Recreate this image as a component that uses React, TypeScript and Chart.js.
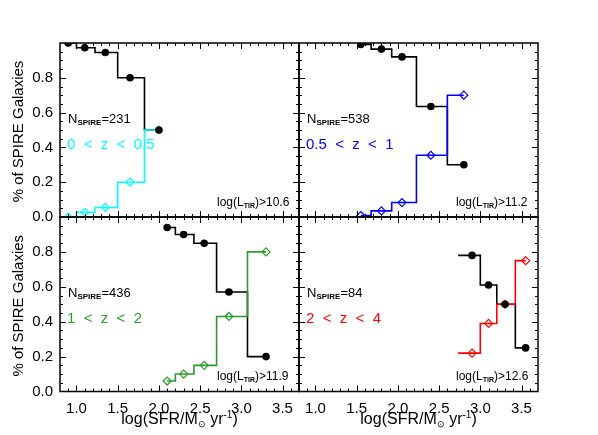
import React, { useEffect, useRef } from 'react';
import { Chart, registerables } from 'chart.js';

Chart.register(...registerables);

const W = 598;
const H = 435;
const FONT = '"Liberation Sans", Arial, Helvetica, sans-serif';

// ---------------- data ----------------
// 0 < z < 0.5
const sfr1 = [0.9, 1.1, 1.35, 1.65, 2.0];
const black1 = [1.0, 0.973, 0.945, 0.8, 0.5];
const cyan1 = [0.0, 0.027, 0.055, 0.2, 0.5];
// 0.5 < z < 1
const sfr2 = [1.55, 1.8, 2.05, 2.4, 2.8];
const black2 = [0.992, 0.965, 0.92, 0.635, 0.3];
const blue2 = [0.008, 0.035, 0.083, 0.355, 0.7];
// 1 < z < 2
const sfr3 = [2.1, 2.3, 2.55, 2.85, 3.3];
const black3 = [0.94, 0.9, 0.85, 0.57, 0.2];
const green3 = [0.06, 0.1, 0.15, 0.43, 0.8];
// 2 < z < 4
const sfr4 = [2.9, 3.1, 3.3, 3.55];
const black4 = [0.78, 0.61, 0.5, 0.25];
const red4 = [0.22, 0.39, 0.5, 0.75];
const histStart4 = 2.73;

const xTickValues = [1.0, 1.5, 2.0, 2.5, 3.0, 3.5];
const yTickValues = [0.0, 0.2, 0.4, 0.6, 0.8];
const xRange = [0.8, 3.7];
const yRange = [0, 1];

const nSpire = ['231', '538', '436', '84'];
const zLabels = ['0  <  z  <  0.5', '0.5  <  z  <  1', '1  <  z  <  2', '2  <  z  <  4'];
const lirCuts = ['10.6', '11.2', '11.9', '12.6'];

// ---------------- layout ----------------
const COLS = [[60, 299], [299, 538]];
const ROWS = [[43, 217], [217, 391.5]];

type Panel = {
  sfr: number[];
  black: number[];
  frac: number[];
  color: string;
  col: number;
  row: number;
  start?: number;
};

const panels: Panel[] = [
  { sfr: sfr1, black: black1, frac: cyan1, color: '#00ffff', col: 0, row: 0 },
  { sfr: sfr2, black: black2, frac: blue2, color: '#0000ff', col: 1, row: 0 },
  { sfr: sfr3, black: black3, frac: green3, color: '#2e9a2e', col: 0, row: 1 },
  { sfr: sfr4, black: black4, frac: red4, color: '#ff0000', col: 1, row: 1, start: histStart4 },
];

type Part = { t: string; s: number; dy?: number; w?: string };

function drawRich(ctx: CanvasRenderingContext2D, x: number, y: number, parts: Part[], align: 'left' | 'center' = 'left') {
  ctx.textAlign = 'left';
  ctx.textBaseline = 'alphabetic';
  let total = 0;
  const widths: number[] = [];
  for (const p of parts) {
    ctx.font = `${p.w || 'normal'} ${p.s}px ${FONT}`;
    const w = ctx.measureText(p.t).width;
    widths.push(w);
    total += w;
  }
  let cx = align === 'center' ? x - total / 2 : x;
  parts.forEach((p, k) => {
    ctx.font = `${p.w || 'normal'} ${p.s}px ${FONT}`;
    ctx.fillText(p.t, cx, y + (p.dy || 0));
    cx += widths[k];
  });
}

function makeDecor(p: Panel, i: number) {
  const [l] = COLS[p.col];
  const [t, b] = ROWS[p.row];
  const showY = p.col === 0;
  const showX = p.row === 1;
  return {
    id: 'panelDecor',
    afterDatasetsDraw(chart: any) {
      const { ctx, chartArea: a, scales } = chart;
      const sx = scales.x;
      const sy = scales.y;
      ctx.save();
      ctx.strokeStyle = '#000';
      ctx.lineWidth = 1;
      ctx.beginPath();
      const k0 = Math.ceil(xRange[0] * 10 + 1e-6);
      const k1 = Math.floor(xRange[1] * 10 - 1e-6);
      for (let k = k0; k <= k1; k++) {
        const px = Math.round(sx.getPixelForValue(k / 10)) + 0.5;
        const len = k % 5 === 0 ? 6 : 3;
        ctx.moveTo(px, a.bottom);
        ctx.lineTo(px, a.bottom - len);
        ctx.moveTo(px, a.top);
        ctx.lineTo(px, a.top + len);
      }
      for (let k = 1; k < 20; k++) {
        const py = Math.round(sy.getPixelForValue(yRange[0] + k * 0.05)) + 0.5;
        const len = k % 4 === 0 ? 6 : 3;
        ctx.moveTo(a.left, py);
        ctx.lineTo(a.left + len, py);
        ctx.moveTo(a.right, py);
        ctx.lineTo(a.right - len, py);
      }
      ctx.stroke();
      ctx.lineWidth = 1.5;
      ctx.strokeRect(a.left, a.top, a.right - a.left, a.bottom - a.top);
      ctx.restore();
    },
    afterDraw(chart: any) {
      const ctx: CanvasRenderingContext2D = chart.ctx;
      ctx.save();
      ctx.fillStyle = '#000';
      drawRich(ctx, l + 8, t + 79.5, [
        { t: 'N', s: 13 },
        { t: 'SPIRE', s: 8, dy: 2, w: 'bold' },
        { t: '=' + nSpire[i], s: 13 },
      ]);
      ctx.fillStyle = p.color;
      drawRich(ctx, l + 7, t + 106, [{ t: zLabels[i], s: 15 }]);
      ctx.fillStyle = '#000';
      drawRich(ctx, l + 157, t + 162.5, [
        { t: 'log(L', s: 12 },
        { t: 'TIR', s: 7, dy: 2, w: 'bold' },
        { t: ')>' + lirCuts[i], s: 12 },
      ]);
      if (showY) {
        ctx.save();
        ctx.translate(22.5, (t + b) / 2 + 1.5);
        ctx.rotate(-Math.PI / 2);
        drawRich(ctx, 0, 0, [{ t: '% of SPIRE Galaxies', s: 15 }], 'center');
        ctx.restore();
      }
      if (showX) {
        const [cl, cr] = COLS[p.col];
        drawRich(ctx, (cl + cr) / 2, 424, [
          { t: 'log(SFR/M', s: 16 },
          { t: '\u2299', s: 9, dy: 3 },
          { t: ' yr', s: 16 },
          { t: '-1', s: 10, dy: -6 },
          { t: ')', s: 16 },
        ], 'center');
      }
      ctx.restore();
    },
  };
}

function makeConfig(p: Panel, i: number): any {
  const [l, r] = COLS[p.col];
  const [t, b] = ROWS[p.row];
  const showY = p.col === 0;
  const showX = p.row === 1;
  const pts = (ys: number[]) => p.sfr.map((x, k) => ({ x, y: ys[k] }));
  const stepPts = (ys: number[]) => {
    const arr = pts(ys);
    if (p.start !== undefined) arr.unshift({ x: p.start, y: ys[0] });
    return arr;
  };
  const tickFont = { family: FONT, size: 15 };
  return {
    type: 'line',
    data: {
      datasets: [
        {
          label: 'black markers',
          data: pts(p.black),
          showLine: false,
          pointStyle: 'circle',
          pointRadius: 3.8,
          pointBackgroundColor: '#000',
          pointBorderColor: '#000',
          pointBorderWidth: 0,
          clip: 0,
        },
        {
          label: 'colour markers',
          data: pts(p.frac),
          showLine: false,
          pointStyle: 'rectRot',
          pointRadius: 4,
          pointBackgroundColor: 'rgba(0,0,0,0)',
          pointBorderColor: p.color,
          pointBorderWidth: 1.2,
          clip: 0,
        },
        {
          label: 'colour hist',
          data: stepPts(p.frac),
          stepped: 'middle',
          borderColor: p.color,
          borderWidth: 1.6,
          pointRadius: 0,
          fill: false,
        },
        {
          label: 'black hist',
          data: stepPts(p.black),
          stepped: 'middle',
          borderColor: '#000',
          borderWidth: 1.6,
          pointRadius: 0,
          fill: false,
        },
      ],
    },
    options: {
      responsive: false,
      animation: false,
      events: [],
      layout: {
        padding: {
          left: showY ? 0 : l,
          right: W - r,
          top: t,
          bottom: showX ? 0 : H - b,
        },
      },
      plugins: { legend: { display: false }, tooltip: { enabled: false } },
      scales: {
        x: {
          type: 'linear',
          min: xRange[0],
          max: xRange[1],
          display: showX,
          grid: { display: false, drawTicks: false },
          border: { display: false },
          afterBuildTicks: (s: any) => {
            s.ticks = xTickValues.map((v) => ({ value: v }));
          },
          ticks: {
            font: tickFont,
            color: '#000',
            padding: 8,
            maxRotation: 0,
            autoSkip: false,
            callback: (v: any) => Number(v).toFixed(1),
          },
          afterFit: showX ? (s: any) => { s.height = H - b; } : undefined,
        },
        y: {
          type: 'linear',
          min: yRange[0],
          max: yRange[1],
          display: showY,
          grid: { display: false, drawTicks: false },
          border: { display: false },
          afterBuildTicks: (s: any) => {
            s.ticks = yTickValues.map((v) => ({ value: v }));
          },
          ticks: {
            font: tickFont,
            color: '#000',
            padding: 7,
            autoSkip: false,
            callback: (v: any) => Number(v).toFixed(1),
          },
          afterFit: showY ? (s: any) => { s.width = l; } : undefined,
        },
      },
    },
    plugins: [makeDecor(p, i)],
  };
}

export default function App() {
  const canvasRefs = useRef<(HTMLCanvasElement | null)[]>([]);
  useEffect(() => {
    const charts = panels.map((p, i) => new Chart(canvasRefs.current[i] as HTMLCanvasElement, makeConfig(p, i)));
    return () => {
      charts.forEach((c) => c.destroy());
    };
  }, []);
  return (
    <div style={{ position: 'absolute', left: 0, top: 0, width: W, height: H, background: '#fff' }}>
      {panels.map((_, i) => (
        <canvas
          key={i}
          ref={(el) => {
            canvasRefs.current[i] = el;
          }}
          width={W}
          height={H}
          style={{ position: 'absolute', left: 0, top: 0, width: W, height: H }}
        />
      ))}
    </div>
  );
}
